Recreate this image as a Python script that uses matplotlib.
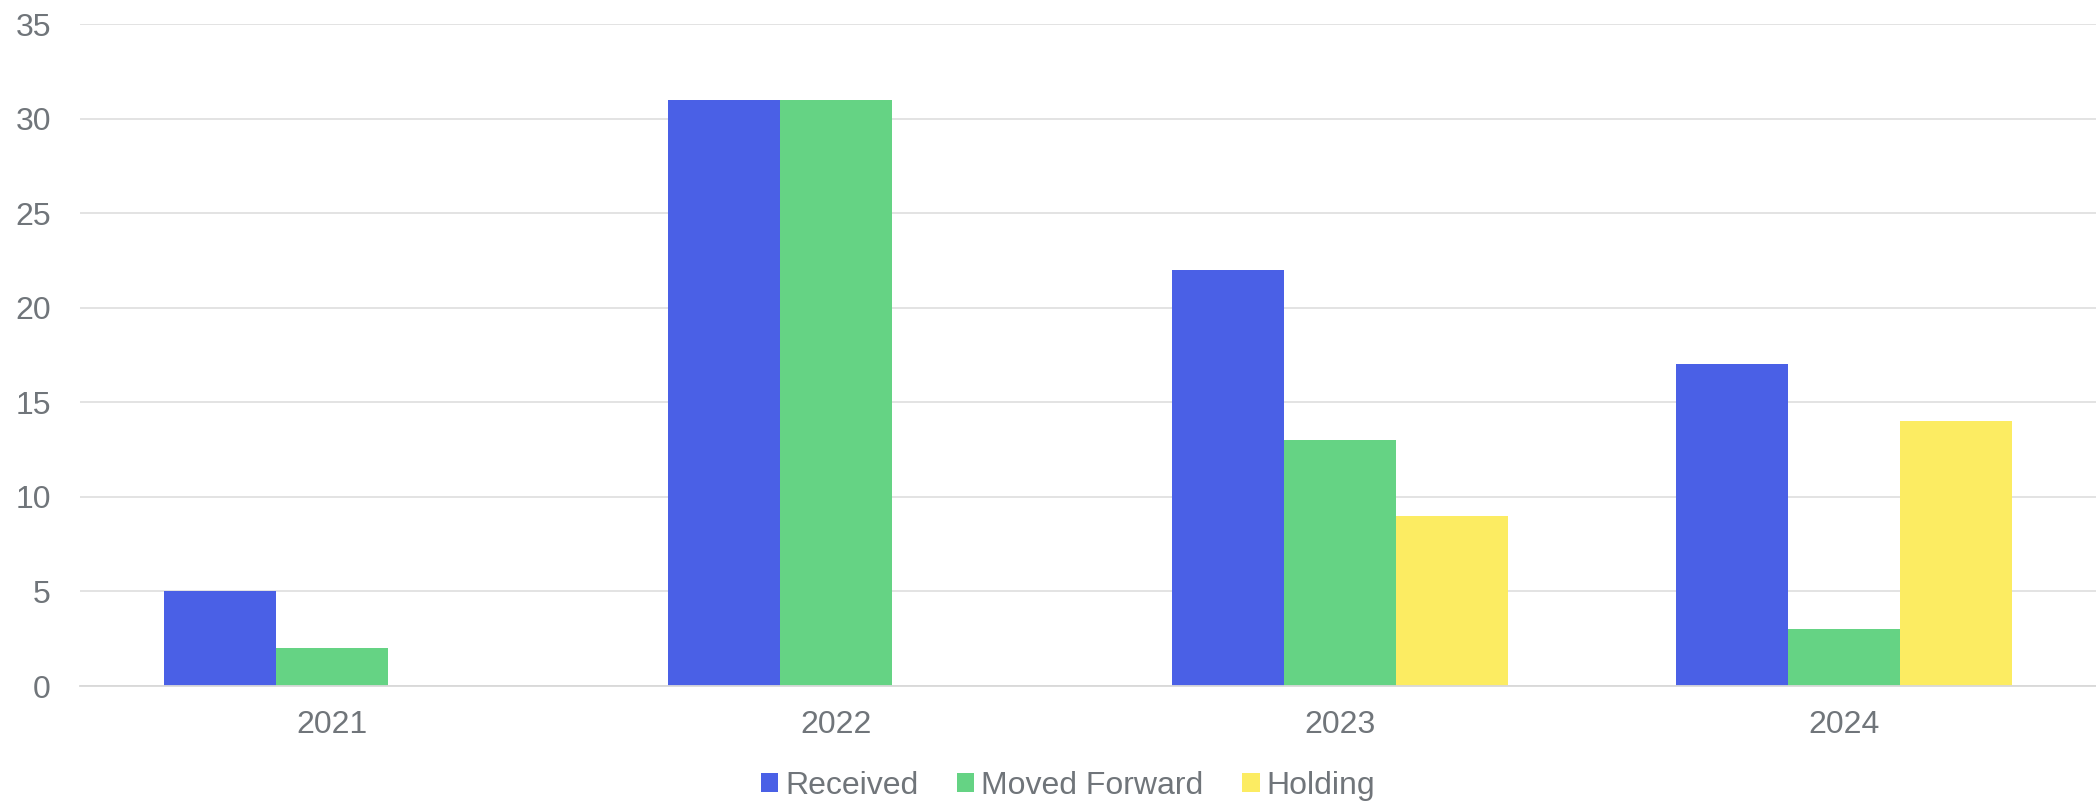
import matplotlib
matplotlib.use("Agg")
import matplotlib.pyplot as plt
from matplotlib.patches import Patch
import numpy as np

years = ["2021", "2022", "2023", "2024"]
received = [5, 31, 22, 17]
moved_forward = [2, 31, 13, 3]
holding = [0, 0, 9, 14]
series_names = ["Received", "Moved Forward", "Holding"]
colors = ["#4a60e6", "#65d384", "#fcec62"]
y_ticks = [0, 5, 10, 15, 20, 25, 30, 35]

plt.rcParams['font.family'] = ['Liberation Sans', 'DejaVu Sans']
text_color = "#70757a"

fig = plt.figure(figsize=(20.96, 8.02), dpi=100)
ax = fig.add_axes([80/2096, 1-686/802, 1-80/2096, (686-24)/802])

x = np.arange(len(years))
w = 0.2222
for i, (vals, c) in enumerate(zip([received, moved_forward, holding], colors)):
    ax.bar(x + (i-1)*w, vals, width=w, color=c, zorder=3, linewidth=0)

ax.set_xlim(-0.5, 3.5)
ax.set_ylim(0, 35)
ax.set_yticks(y_ticks)
ax.set_xticks(x)
ax.set_xticklabels(years)
ax.grid(axis='y', color="#e1e1e1", linewidth=1.3, zorder=0)
for s in ['top', 'right', 'left']:
    ax.spines[s].set_visible(False)
ax.spines['bottom'].set_color("#d9d9d9")
ax.spines['bottom'].set_linewidth(1.3)
ax.spines['bottom'].set_zorder(4)
ax.tick_params(axis='both', length=0, labelsize=23, colors=text_color)
ax.tick_params(axis='x', pad=17.5)
ax.tick_params(axis='y', pad=21)

handles = [Patch(facecolor=c, edgecolor='none') for c in colors]
leg = fig.legend(handles, series_names, loc='center', bbox_to_anchor=(1068/2096, 1-786/802),
                 ncol=3, frameon=False, fontsize=23, handlelength=0.55, handleheight=0.55,
                 handletextpad=0.22, columnspacing=1.2, borderpad=0, borderaxespad=0)
for t in leg.get_texts():
    t.set_color(text_color)

fig.savefig("out.png", dpi=100)
